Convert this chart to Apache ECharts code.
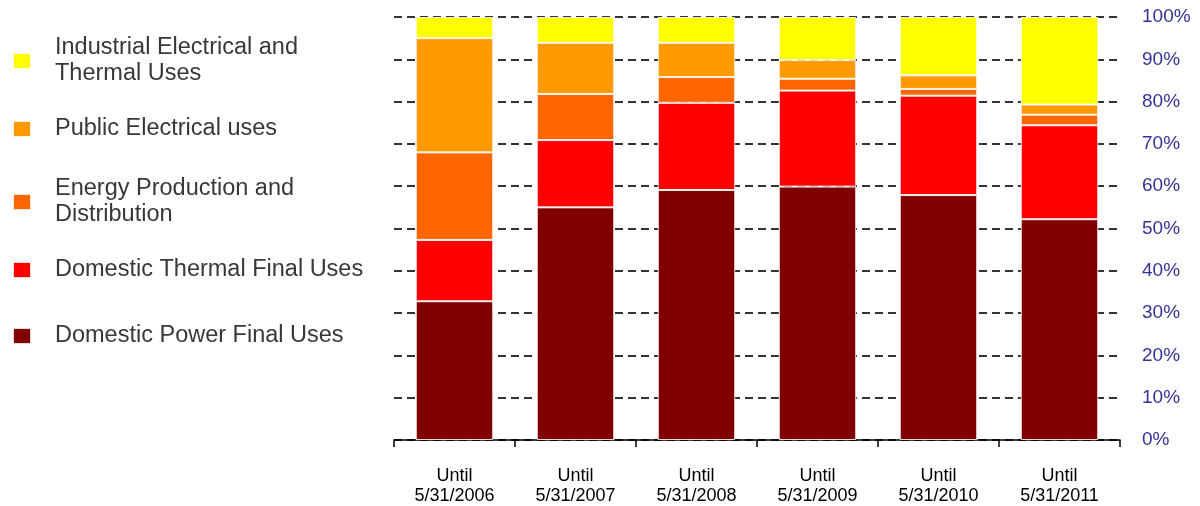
<!DOCTYPE html>
<html>
<head>
<meta charset="utf-8">
<script src="https://cdn.jsdelivr.net/npm/echarts@6/dist/echarts.min.js"></script>
<style>
html,body{margin:0;padding:0;background:#fff;}
#chart{width:1200px;height:506px;}
</style>
</head>
<body>
<div id="chart"></div>
<script>
var categories = ['Until\n5/31/2006','Until\n5/31/2007','Until\n5/31/2008','Until\n5/31/2009','Until\n5/31/2010','Until\n5/31/2011'];
var domesticPower   = [32.8, 55.0, 59.1, 59.9, 57.9, 52.2];
var domesticThermal = [14.5, 15.9, 20.6, 22.7, 23.5, 22.2];
var energyProd      = [20.7, 10.9, 6.1, 2.8, 1.6, 2.5];
var publicElec      = [27.0, 12.1, 8.1, 4.4, 3.2, 2.4];
var industrial      = [5.0, 6.1, 6.1, 10.2, 13.8, 20.7];
var yTicks = [0,10,20,30,40,50,60,70,80,90,100];

var names = {
  ie: 'Industrial Electrical and Thermal Uses',
  pe: 'Public Electrical uses',
  ep: 'Energy Production and Distribution',
  dt: 'Domestic Thermal Final Uses',
  dp: 'Domestic Power Final Uses'
};
var wrapped = {};
wrapped[names.ie] = 'Industrial Electrical and\nThermal Uses';
wrapped[names.ep] = 'Energy Production and\nDistribution';

var font = '"Liberation Sans", Arial, sans-serif';

function mkLegend(name, top){
  return {
    data: [name],
    left: 12,
    top: top,
    padding: 0,
    orient: 'vertical',
    icon: 'rect',
    itemWidth: 18,
    itemHeight: 16,
    selectedMode: false,
    formatter: function(n){ return wrapped[n] || n; },
    textStyle: {fontFamily: font, fontSize: 23.5, lineHeight: 26, color: '#383838', padding: [0,0,0,19]}
  };
}

function mkSeries(name, data, color){
  return {
    name: name,
    type: 'bar',
    stack: 'total',
    data: data,
    barWidth: '64%',
    itemStyle: {color: color, borderColor: 'rgba(255,255,255,0.85)', borderWidth: 1},
    emphasis: {disabled: true}
  };
}

var chart = echarts.init(document.getElementById('chart'), null, {renderer: 'canvas'});
chart.setOption({
  animation: false,
  backgroundColor: '#fff',
  legend: [
    mkLegend(names.ie, 35),
    mkLegend(names.pe, 116),
    mkLegend(names.ep, 176),
    mkLegend(names.dt, 257),
    mkLegend(names.dp, 323)
  ],
  grid: {left: 394, right: 80, top: 17, bottom: 66, containLabel: false},
  xAxis: {
    type: 'category',
    data: categories,
    boundaryGap: true,
    axisLine: {show: true, lineStyle: {color: '#000', width: 1.5}},
    axisTick: {show: true, length: 7, lineStyle: {color: '#000', width: 1.5}},
    axisLabel: {fontFamily: font, fontSize: 18, lineHeight: 20, color: '#000', margin: 26, interval: 0}
  },
  yAxis: {
    type: 'value',
    position: 'right',
    min: 0, max: 100, interval: 10,
    axisLine: {show: false},
    axisTick: {show: false},
    axisLabel: {
      fontFamily: font, fontSize: 19, color: '#333399', margin: 22,
      formatter: function(v){ return yTicks.indexOf(v) >= 0 ? v + '%' : ''; }
    },
    splitLine: {show: true, lineStyle: {color: '#333', width: 2, type: [8,5]}}
  },
  series: [
    mkSeries(names.dp, domesticPower, '#800000'),
    mkSeries(names.dt, domesticThermal, '#FF0000'),
    mkSeries(names.ep, energyProd, '#FF6600'),
    mkSeries(names.pe, publicElec, '#FF9900'),
    mkSeries(names.ie, industrial, '#FFFF00')
  ]
});
</script>
</body>
</html>
